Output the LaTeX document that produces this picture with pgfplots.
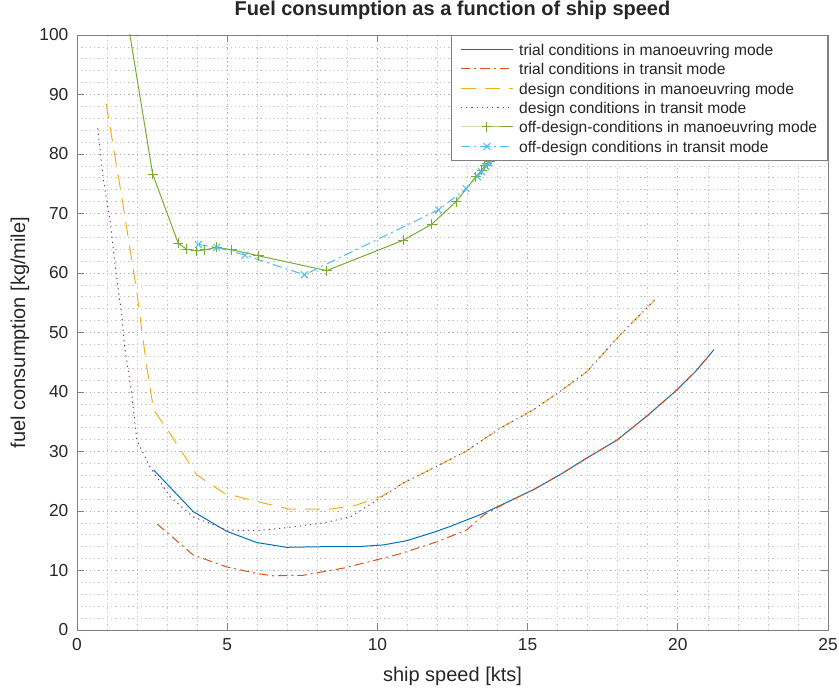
\documentclass[border=0pt]{standalone}
\usepackage{fontspec}
\setmainfont{Liberation Sans}
\usepackage{pgfplots}
\pgfplotsset{compat=1.18}
\definecolor{mblue}{rgb}{0,0.447,0.741}
\definecolor{morange}{rgb}{0.85,0.325,0.098}
\definecolor{myellow}{rgb}{0.929,0.694,0.125}
\definecolor{mpurple}{rgb}{0.494,0.184,0.556}
\definecolor{mgreen}{rgb}{0.466,0.674,0.188}
\definecolor{mcyan}{rgb}{0.301,0.745,0.933}
\begin{document}
\begin{tikzpicture}
\begin{axis}[
  scale only axis,
  width=563.25pt, height=446.25pt,
  xmin=0, xmax=25, ymin=0, ymax=100,
  xtick={0,5,...,25}, ytick={0,10,...,100},
  minor x tick num=4, minor y tick num=4,
  grid=both,
  major grid style={black!30, dash pattern=on 1pt off 2.2pt, line width=0.5pt},
  minor grid style={black!22, dash pattern=on 1pt off 2.2pt, line width=0.5pt},
  tick align=inside, xtick pos=both, ytick pos=both,
  major tick length=5.5pt, minor tick length=0pt,
  axis line style={black!50, line width=0.6pt},
  every tick/.style={black!50, line width=0.6pt},
  /pgf/number format/assume math mode=true,
  tick label style={font=\fontsize{13}{15}\selectfont, text=black!85},
  xticklabel style={yshift=-3pt},
  yticklabel style={xshift=-3pt},
  xlabel={ship speed [kts]},
  ylabel={fuel consumption [kg/mile]},
  title={Fuel consumption as a function of ship speed},
  label style={font=\fontsize{15}{18}\selectfont, text=black!85},
  xlabel style={at={(axis description cs:0.5,-0.0773)}, anchor=center},
  ylabel style={at={(axis description cs:-0.0759,0.5)}, anchor=center},
  title style={font=\fontsize{15}{18}\selectfont\bfseries, text=black!85, at={(axis description cs:0.5,1.0286)}, anchor=center},
  legend image code/.code={\draw[mark repeat=2,mark phase=2,#1] plot coordinates {(0pt,0pt) (19.5pt,0pt) (39pt,0pt)};},
  legend cell align=left,
  legend style={at={(1,1)}, anchor=north east, draw=black!50, fill=white, line width=0.6pt,
    font=\fontsize{11.7}{13}\selectfont, inner xsep=7pt, inner ysep=4pt, row sep=2pt,
    nodes={inner sep=0.8pt, text height=10pt, text depth=1pt, text=black!85},
    /tikz/every odd column/.append style={column sep=3.5pt}},
  every axis plot/.append style={line width=0.75pt},
]
% trial conditions in manoeuvring mode
\addplot[mblue, solid] coordinates {
(2.55,26.9)(3.87,19.9)(4.98,16.6)(5.98,14.7)(6.98,13.9)(8.2,14.0)(9.31,14.0)(10.2,14.3)(10.97,15.0)(11.86,16.4)(12.42,17.4)(13.53,19.6)(14.41,21.7)(15.2,23.6)(16.08,26.1)(16.97,28.9)(17.97,31.9)(18.96,35.9)(19.96,40.3)(20.6,43.5)(21.2,47.1)};
\addlegendentry{trial conditions in manoeuvring mode}
% trial conditions in transit mode
\addplot[morange, dash pattern=on 7pt off 3pt on 1.5pt off 3pt] coordinates {
(2.67,17.8)(3.87,12.6)(4.98,10.6)(5.98,9.5)(6.54,9.1)(7.53,9.2)(8.87,10.4)(9.98,11.8)(10.75,12.8)(11.97,14.8)(12.97,16.8)(13.53,19.3)(14.3,21.4)(15.2,23.6)(16.08,26.1)(16.97,28.9)(17.97,31.9)(18.96,35.9)(19.96,40.3)(20.6,43.5)(21.2,47.1)};
\addlegendentry{trial conditions in transit mode}
% design conditions in manoeuvring mode
\addplot[myellow, dash pattern=on 11pt off 7pt] coordinates {
(0.97,88.5)(1.5,72.5)(2.0,56.5)(2.3,45)(2.55,37)(3.1,33)(3.98,26.1)(4.9,23)(5.98,21.6)(7.09,20.3)(8.42,20.3)(9.31,21)(10.2,22.6)(10.86,24.7)(11.86,27.2)(12.97,30.1)(14.08,33.9)(15.19,37.0)(16.08,40.1)(16.97,43.4)(18.08,49.6)(19.24,55.5)};
\addlegendentry{design conditions in manoeuvring mode}
% design conditions in transit mode
\addplot[mpurple, dash pattern=on 0.9pt off 3pt] coordinates {
(0.69,84.3)(0.88,75.6)(1.1,68.9)(1.3,60)(1.49,53)(1.6,47.1)(1.82,39.8)(1.99,31.9)(2.43,27.4)(3.1,22.4)(3.87,19.0)(4.98,16.8)(5.98,16.7)(6.98,17.2)(8.2,18.0)(9.09,19.0)(9.98,21.8)(10.86,24.7)(11.86,27.2)(12.97,30.1)(14.08,33.9)(15.19,37.0)(16.08,40.1)(16.97,43.4)(18.08,49.6)(19.24,55.5)};
\addlegendentry{design conditions in transit mode}
% off-design conditions in manoeuvring mode (line part above the axis)
\addplot[mgreen, solid, forget plot] coordinates {(1.6,105)(2.52,76.6)};
\addplot[mgreen, solid, mark=+, mark size=3.8pt, mark options={solid}] coordinates {
(2.52,76.6)(3.37,65.0)(3.65,64.0)(3.98,63.7)(4.26,63.9)(4.65,64.3)(5.15,63.9)(6.04,62.9)(8.31,60.4)(10.86,65.5)(11.81,68.2)(12.62,72.0)(13.28,76.2)(13.47,77.3)(13.58,78.0)(13.66,78.4)(13.75,78.8)};
\addlegendentry{off-design-conditions in manoeuvring mode}
% off-design conditions in transit mode
\addplot[mcyan, dash pattern=on 7pt off 3pt on 1.5pt off 3pt, mark=x, mark size=3.6pt, mark options={solid}] coordinates {
(4.04,64.8)(4.65,64.3)(5.59,63.0)(7.57,59.7)(12.03,70.6)(12.95,74.2)(13.33,76.2)(13.47,77.0)(13.62,77.9)(13.72,78.5)};
\addlegendentry{off-design conditions in transit mode}
\end{axis}
\pgfresetboundingbox
\useasboundingbox (-57.75pt,-45.75pt) rectangle (571.5pt,472.5pt);
\end{tikzpicture}
\end{document}
